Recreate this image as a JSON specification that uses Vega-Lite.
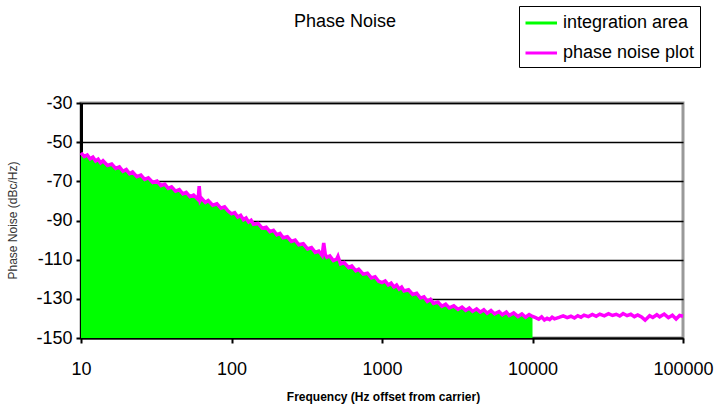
{
  "$schema": "https://vega.github.io/schema/vega-lite/v6.json",
  "autosize": "none",
  "padding": {"left": 81, "top": 103, "right": 33, "bottom": 71},
  "width": 602,
  "height": 235,
  "config": {
    "font": "Liberation Sans",
    "view": {"stroke": "#999999", "strokeWidth": 3},
    "axis": {"labelColor": "#000", "titleColor": "#000", "domainColor": "#000", "tickColor": "#000"}
  },
  "title": {"text": "Phase Noise", "fontSize": 18, "fontWeight": "normal", "color": "#000", "anchor": "middle", "dx": -37, "baseline": "top", "offset": -25},
  "data": {"values": [
    {"f": 10, "db": -55.5}, {"f": 10.5, "db": -57.3}, {"f": 11, "db": -56.5}, {"f": 11.5, "db": -58.5}, {"f": 12, "db": -57.6},
    {"f": 12.5, "db": -59.6}, {"f": 13, "db": -58.7}, {"f": 13.5, "db": -60.6}, {"f": 14, "db": -59.5}, {"f": 15, "db": -61.9},
    {"f": 16, "db": -61.2}, {"f": 17, "db": -63.4}, {"f": 18, "db": -62.6}, {"f": 19, "db": -64.9}, {"f": 20, "db": -64},
    {"f": 21, "db": -66.1}, {"f": 22, "db": -65.2}, {"f": 23.5, "db": -67.6}, {"f": 25, "db": -66.8}, {"f": 26.5, "db": -69},
    {"f": 28, "db": -68.2}, {"f": 30, "db": -70.6}, {"f": 32, "db": -69.9}, {"f": 34, "db": -72.2}, {"f": 36, "db": -71.4},
    {"f": 38, "db": -73.6}, {"f": 40, "db": -72.8}, {"f": 42.5, "db": -75}, {"f": 45, "db": -74.2}, {"f": 47.5, "db": -76.4},
    {"f": 50, "db": -75.6}, {"f": 53, "db": -77.8}, {"f": 56, "db": -77}, {"f": 60, "db": -79.3}, {"f": 61, "db": -72.5},
    {"f": 62, "db": -79.5}, {"f": 63, "db": -78.5}, {"f": 67, "db": -80.8}, {"f": 70, "db": -79.8}, {"f": 75, "db": -82.2},
    {"f": 80, "db": -81.5}, {"f": 85, "db": -83.7}, {"f": 90, "db": -83}, {"f": 95, "db": -85.2},
    {"f": 100, "db": -86.6}, {"f": 105, "db": -86}, {"f": 110, "db": -88.2}, {"f": 115, "db": -87.4}, {"f": 120, "db": -89.6},
    {"f": 125, "db": -88.7}, {"f": 130, "db": -90.8}, {"f": 135, "db": -89.9}, {"f": 140, "db": -91.9}, {"f": 150, "db": -91.5},
    {"f": 160, "db": -93.9}, {"f": 170, "db": -93.4}, {"f": 180, "db": -95.7}, {"f": 190, "db": -95}, {"f": 200, "db": -97.3},
    {"f": 210, "db": -96.6}, {"f": 220, "db": -98.8}, {"f": 235, "db": -98.3}, {"f": 250, "db": -100.7}, {"f": 265, "db": -100},
    {"f": 280, "db": -102.4}, {"f": 300, "db": -101.9}, {"f": 320, "db": -104.5}, {"f": 340, "db": -103.8}, {"f": 360, "db": -106.3},
    {"f": 380, "db": -105.6}, {"f": 400, "db": -107.9}, {"f": 410, "db": -101.5}, {"f": 420, "db": -107.3}, {"f": 430, "db": -108.8},
    {"f": 450, "db": -108.1}, {"f": 475, "db": -110.5}, {"f": 500, "db": -109.7}, {"f": 510, "db": -108.3}, {"f": 530, "db": -112.2},
    {"f": 560, "db": -111.5}, {"f": 600, "db": -114}, {"f": 630, "db": -113.2}, {"f": 670, "db": -115.7}, {"f": 700, "db": -114.9},
    {"f": 750, "db": -117.4}, {"f": 800, "db": -116.9}, {"f": 850, "db": -119.3}, {"f": 900, "db": -118.7}, {"f": 950, "db": -121},
    {"f": 1000, "db": -121.7}, {"f": 1050, "db": -120.9}, {"f": 1100, "db": -122.9}, {"f": 1150, "db": -122}, {"f": 1200, "db": -124},
    {"f": 1250, "db": -123}, {"f": 1300, "db": -125}, {"f": 1350, "db": -124}, {"f": 1400, "db": -126}, {"f": 1500, "db": -125.4},
    {"f": 1600, "db": -127.8}, {"f": 1700, "db": -127.2}, {"f": 1800, "db": -129.6}, {"f": 1900, "db": -129}, {"f": 2000, "db": -131.3},
    {"f": 2100, "db": -130.3}, {"f": 2200, "db": -132.3}, {"f": 2350, "db": -131.6}, {"f": 2500, "db": -133.8}, {"f": 2650, "db": -132.7},
    {"f": 2800, "db": -134.6}, {"f": 3000, "db": -133.6}, {"f": 3200, "db": -135.4}, {"f": 3400, "db": -134.2}, {"f": 3600, "db": -135.9},
    {"f": 3800, "db": -134.7}, {"f": 4000, "db": -136.4}, {"f": 4250, "db": -135.1}, {"f": 4500, "db": -136.8}, {"f": 4750, "db": -135.6},
    {"f": 5000, "db": -137.3}, {"f": 5300, "db": -136}, {"f": 5600, "db": -137.7}, {"f": 6000, "db": -136.5}, {"f": 6300, "db": -138.1},
    {"f": 6700, "db": -136.8}, {"f": 7000, "db": -138.5}, {"f": 7500, "db": -137.2}, {"f": 8000, "db": -139}, {"f": 8500, "db": -137.7},
    {"f": 9000, "db": -139.4}, {"f": 9500, "db": -138}, {"f": 10000, "db": -139},
    {"f": 10500, "db": -139.6}, {"f": 11000, "db": -140.4}, {"f": 11500, "db": -139.2}, {"f": 12000, "db": -140.8}, {"f": 12500, "db": -139.9},
    {"f": 13000, "db": -140.6}, {"f": 13500, "db": -139.4}, {"f": 14000, "db": -140.2}, {"f": 15000, "db": -139.5}, {"f": 16000, "db": -138.7},
    {"f": 17000, "db": -139.6}, {"f": 18000, "db": -138.9}, {"f": 19000, "db": -139.8}, {"f": 20000, "db": -138.6}, {"f": 21000, "db": -139.4},
    {"f": 22000, "db": -138.3}, {"f": 23500, "db": -139.1}, {"f": 25000, "db": -138}, {"f": 26500, "db": -138.9}, {"f": 28000, "db": -137.8},
    {"f": 30000, "db": -138.7}, {"f": 32000, "db": -137.6}, {"f": 34000, "db": -138.5}, {"f": 36000, "db": -137.9}, {"f": 38000, "db": -138.8},
    {"f": 40000, "db": -137.5}, {"f": 42500, "db": -138.6}, {"f": 45000, "db": -137.9}, {"f": 47500, "db": -139.1}, {"f": 50000, "db": -138.2},
    {"f": 53000, "db": -139.3}, {"f": 56000, "db": -140.9}, {"f": 60000, "db": -138.6}, {"f": 63000, "db": -139.5}, {"f": 67000, "db": -138.1},
    {"f": 70000, "db": -139.2}, {"f": 75000, "db": -137.8}, {"f": 80000, "db": -139.6}, {"f": 85000, "db": -138.4}, {"f": 90000, "db": -140.3},
    {"f": 95000, "db": -138.5}, {"f": 100000, "db": -138.9}
  ]},
  "encoding": {
    "x": {
      "field": "f", "type": "quantitative",
      "scale": {"type": "log", "domain": [10, 100000], "nice": false},
      "axis": {
        "values": [10, 100, 1000, 10000, 100000], "format": "d", "grid": false, "labelFlush": false, "labelOverlap": false,
        "labelFontSize": 18, "tickSize": 5, "tickWidth": 2, "domainWidth": 2, "labelPadding": 17,
        "title": "Frequency (Hz offset from carrier)", "titleFontSize": 12, "titleFontWeight": "bold",
        "titleBaseline": "top", "titleY": 53, "titleX": 302
      }
    },
    "y": {
      "field": "db", "type": "quantitative",
      "scale": {"domain": [-150, -30], "nice": false, "zero": false},
      "axis": {
        "values": [-150, -130, -110, -90, -70, -50, -30], "labelExpr": "'' + datum.value",
        "labelFontSize": 18, "tickSize": 5, "tickWidth": 2, "domainWidth": 3, "labelPadding": 4,
        "grid": true, "gridColor": "#000", "gridWidth": 1.5, "gridOpacity": 1,
        "title": "Phase Noise (dBc/Hz)", "titleFontSize": 12, "titleFontWeight": "normal", "titleColor": "#333",
        "titleX": -69, "titleY": 117, "titleBaseline": "middle", "titleAngle": 270
      }
    }
  },
  "layer": [
    {
      "transform": [{"filter": "datum.f <= 10000"}],
      "mark": {"type": "area", "opacity": 1},
      "encoding": {
        "y2": {"datum": -150},
        "color": {
          "datum": "integration area",
          "scale": {"domain": ["integration area", "phase noise plot"], "range": ["#00FF00", "#FF00FF"]},
          "legend": {
            "orient": "none", "legendX": 438, "legendY": -97, "title": null,
            "symbolType": "M-1,0H2", "symbolSize": 441, "symbolStrokeWidth": 3,
            "labelFontSize": 18, "labelOffset": 15, "labelColor": "#000", "padding": 5, "rowPadding": 9,
            "strokeColor": "#000",
            "encode": {"symbols": {"update": {"fill": {"value": "transparent"}, "stroke": {"scale": "color", "field": "value"}, "strokeWidth": {"value": 3}, "opacity": {"value": 1}}}}
          }
        }
      }
    },
    {
      "mark": {"type": "line", "strokeWidth": 3.5},
      "encoding": {"color": {"datum": "phase noise plot"}}
    }
  ]
}
